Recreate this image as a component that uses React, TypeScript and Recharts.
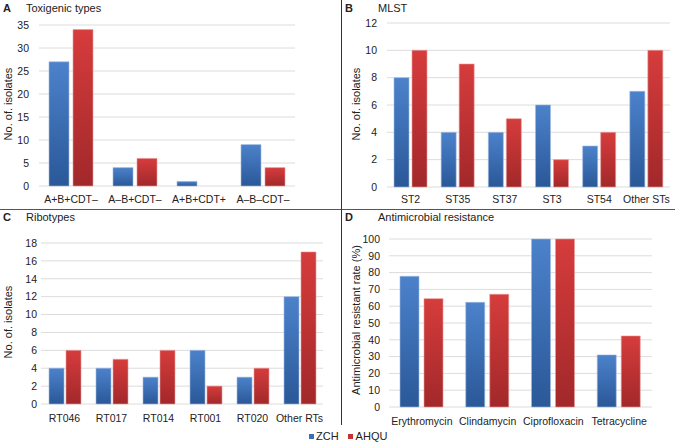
import React from "react"
import { BarChart, Bar, XAxis, YAxis, CartesianGrid } from "recharts"

// categories
const toxinTypes = ["A+B+CDT–", "A–B+CDT–", "A+B+CDT+", "A–B–CDT–"]
const stTypes = ["ST2", "ST35", "ST37", "ST3", "ST54", "Other STs"]
const rtTypes = ["RT046", "RT017", "RT014", "RT001", "RT020", "Other RTs"]
const drugs = ["Erythromycin", "Clindamycin", "Ciprofloxacin", "Tetracycline"]

// series values
const toxinZCH = [27, 4, 1, 9]
const toxinAHQU = [34, 6, 0, 4]
const stZCH = [8, 4, 4, 6, 3, 7]
const stAHQU = [10, 9, 5, 2, 4, 10]
const rtZCH = [4, 4, 3, 6, 3, 12]
const rtAHQU = [6, 5, 6, 2, 4, 17]
const drugZCH = [77.8, 62.3, 100, 31]
const drugAHQU = [64.5, 67.1, 100, 42.3]

// tick labels
const toxinTicks = [0, 5, 10, 15, 20, 25, 30, 35]
const stTicks = [0, 2, 4, 6, 8, 10, 12]
const rtTicks = [0, 2, 4, 6, 8, 10, 12, 14, 16, 18]
const drugTicks = [0, 10, 20, 30, 40, 50, 60, 70, 80, 90, 100]

const FONT = "'Liberation Sans', Arial, sans-serif"

const rows = (cats: string[], a: number[], b: number[]) =>
  cats.map((name, i) => ({ name, zch: a[i], ahqu: b[i] }))

type PanelProps = {
  id: string
  left: number
  top: number
  width: number
  height: number
  margin: { top: number; right: number; left: number; bottom: number }
  yWidth: number
  xHeight: number
  yGap: number
  xGap: number
  data: { name: string; zch: number; ahqu: number }[]
  ticks: number[]
  barSize: number
  barGap: number
}

function Panel(p: PanelProps) {
  const max = p.ticks[p.ticks.length - 1]
  return (
    <div style={{ position: "absolute", left: p.left, top: p.top }}>
      <BarChart width={p.width} height={p.height} data={p.data} margin={p.margin} barSize={p.barSize} barGap={p.barGap}>
        <defs>
          <linearGradient id={p.id + "b"} x1="0" y1="0" x2="0" y2="1">
            <stop offset="0%" stopColor="#4c82cb" />
            <stop offset="100%" stopColor="#2a5898" />
          </linearGradient>
          <linearGradient id={p.id + "r"} x1="0" y1="0" x2="0" y2="1">
            <stop offset="0%" stopColor="#d63c3c" />
            <stop offset="100%" stopColor="#a2282a" />
          </linearGradient>
        </defs>
        <CartesianGrid vertical={false} stroke="#dcdcdc" />
        <XAxis
          dataKey="name"
          height={p.xHeight}
          interval={0}
          axisLine={false}
          tickLine={false}
          tickSize={0}
          tickMargin={p.xGap}
          tick={{ fontSize: 10.5, fill: "#222", fontFamily: FONT }}
        />
        <YAxis
          width={p.yWidth}
          domain={[0, max]}
          ticks={p.ticks}
          interval={0}
          axisLine={false}
          tickLine={false}
          tickSize={0}
          tickMargin={p.yGap}
          tick={{ fontSize: 10.5, fill: "#222", fontFamily: FONT }}
        />
        <Bar dataKey="zch" fill={`url(#${p.id}b)`} stroke="#9fb9e0" strokeWidth={0.6} isAnimationActive={false} />
        <Bar dataKey="ahqu" fill={`url(#${p.id}r)`} stroke="#e89a9a" strokeWidth={0.6} isAnimationActive={false} />
      </BarChart>
    </div>
  )
}

const txt = (x: number, y: number, bold = false): React.CSSProperties => ({
  position: "absolute",
  left: x,
  top: y,
  fontSize: 11,
  fontWeight: bold ? 700 : 400,
  lineHeight: "12px",
  whiteSpace: "nowrap",
  color: "#222",
})

const yLabel = (x: number, y: number): React.CSSProperties => ({
  position: "absolute",
  left: x,
  top: y,
  fontSize: 11,
  lineHeight: "12px",
  whiteSpace: "nowrap",
  color: "#222",
  transform: "translate(-50%, -50%) rotate(-90deg)",
})

export default function App() {
  return (
    <div style={{ position: "absolute", left: 0, top: 0, width: 675, height: 443, background: "#fff", fontFamily: FONT, overflow: "hidden" }}>
      <Panel
        id="a" left={0} top={0} width={341} height={209}
        margin={{ top: 25, right: 46, left: 0, bottom: 0 }}
        yWidth={39} xHeight={23} yGap={10} xGap={10}
        data={rows(toxinTypes, toxinZCH, toxinAHQU)} ticks={toxinTicks}
        barSize={20} barGap={4}
      />
      <Panel
        id="b" left={341} top={0} width={334} height={209}
        margin={{ top: 23, right: 5, left: 0, bottom: 0 }}
        yWidth={46} xHeight={22} yGap={10} xGap={9}
        data={rows(stTypes, stZCH, stAHQU)} ticks={stTicks}
        barSize={15} barGap={3}
      />
      <Panel
        id="c" left={0} top={209} width={341} height={222}
        margin={{ top: 34, right: 18, left: 0, bottom: 0 }}
        yWidth={41} xHeight={27} yGap={4} xGap={11}
        data={rows(rtTypes, rtZCH, rtAHQU)} ticks={rtTicks}
        barSize={15} barGap={2}
      />
      <Panel
        id="d" left={341} top={209} width={334} height={222}
        margin={{ top: 30, right: 23, left: 0, bottom: 0 }}
        yWidth={48} xHeight={24} yGap={9} xGap={11}
        data={rows(drugs, drugZCH, drugAHQU)} ticks={drugTicks}
        barSize={19} barGap={5}
      />

      {/* dividers */}
      <div style={{ position: "absolute", left: 0, top: 209, width: 675, height: 1, background: "#555" }} />
      <div style={{ position: "absolute", left: 341, top: 0, width: 1, height: 425, background: "#333" }} />

      {/* panel titles */}
      <div style={txt(3, 2, true)}>A</div>
      <div style={txt(26, 2)}>Toxigenic types</div>
      <div style={txt(345, 2, true)}>B</div>
      <div style={txt(378, 2)}>MLST</div>
      <div style={txt(3, 211, true)}>C</div>
      <div style={txt(26, 211)}>Ribotypes</div>
      <div style={txt(345, 211, true)}>D</div>
      <div style={txt(378, 211)}>Antimicrobial resistance</div>

      {/* axis titles */}
      <div style={yLabel(8, 104)}>No. of. isolates</div>
      <div style={yLabel(356, 104)}>No. of. isolates</div>
      <div style={yLabel(8, 322)}>No. of. isolates</div>
      <div style={yLabel(356, 320)}>Antimicrobial resistant rate (%)</div>

      {/* legend */}
      <div style={{ position: "absolute", left: 309, top: 430, fontSize: 11, lineHeight: "12px", whiteSpace: "nowrap", color: "#222", display: "flex", alignItems: "center" }}>
        <span style={{ display: "inline-block", width: 5, height: 5, background: "#3a6fb8", marginRight: 2 }} />
        <span>ZCH</span>
        <span style={{ display: "inline-block", width: 5, height: 5, background: "#c43232", marginLeft: 9, marginRight: 3 }} />
        <span>AHQU</span>
      </div>
    </div>
  )
}
